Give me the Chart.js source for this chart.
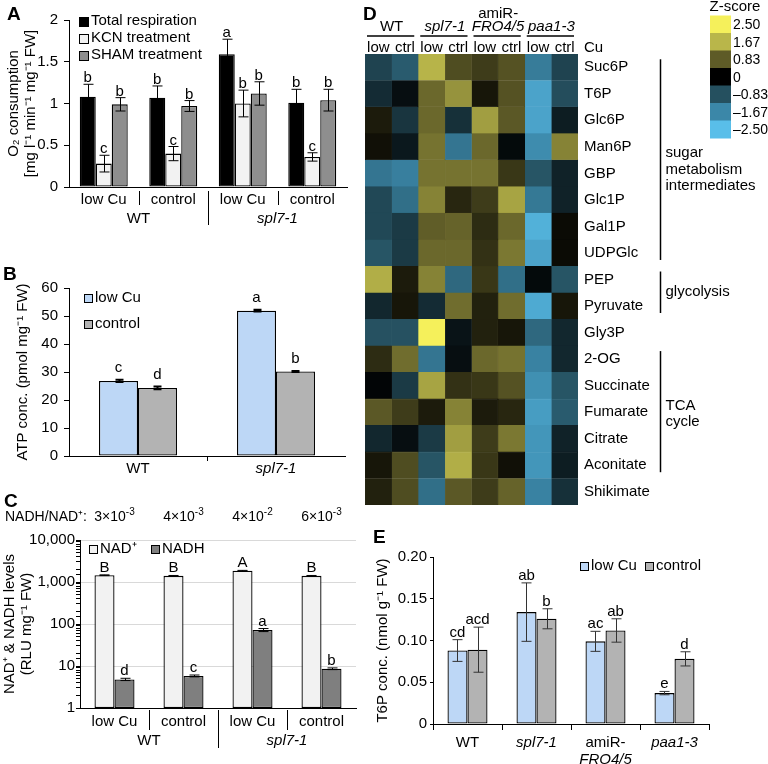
<!DOCTYPE html>
<html><head><meta charset="utf-8">
<script src="https://cdn.jsdelivr.net/npm/chart.js@4.4.1/dist/chart.umd.min.js"></script>
<style>
html,body{margin:0;padding:0;background:#fff;}
#wrap{position:relative;width:768px;height:764px;overflow:hidden;background:#fff;}
canvas{position:absolute;}
</style></head><body><div id="wrap">
<canvas id="cA" width="352" height="232" style="left:0;top:0"></canvas>
<canvas id="cB" width="352" height="256" style="left:0;top:232px"></canvas>
<canvas id="cC" width="362" height="276" style="left:0;top:488px"></canvas>
<canvas id="cD" width="438" height="520" style="left:330px;top:0"></canvas>
<canvas id="cE" width="428" height="249" style="left:340px;top:515px"></canvas>
</div>
<script>
// ================= DATA =================
// Panel A: O2 consumption
const aConditions = ['low Cu', 'control', 'low Cu', 'control'];
const aGenotypes = ['WT', 'spl7-1'];
const aSeries = ['Total respiration', 'KCN treatment', 'SHAM treatment'];
const aTotal = [1.08, 1.07, 1.59, 1.01];
const aTotalErr = [0.15, 0.14, 0.18, 0.16];
const aTotalLetters = ['b', 'b', 'a', 'b'];
const aKCN = [0.28, 0.40, 1.00, 0.36];
const aKCNErr = [0.10, 0.085, 0.16, 0.05];
const aKCNLetters = ['c', 'c', 'b', 'c'];
const aSHAM = [0.99, 0.97, 1.12, 1.04];
const aSHAMErr = [0.08, 0.065, 0.14, 0.13];
const aSHAMLetters = ['b', 'b', 'b', 'b'];
const aTicks = [0, 0.5, 1, 1.5, 2];
const aYTitle = ['O\u2082 consumption', '[mg l\u207B\u00B9 min\u207B\u00B9 mg\u207B\u00B9 FW]'];

// Panel B: ATP
const bGenotypes = ['WT', 'spl7-1'];
const bSeries = ['low Cu', 'control'];
const bLowCu = [26.8, 51.9];
const bLowCuErr = [0.4, 0.3];
const bLowCuLetters = ['c', 'a'];
const bControl = [24.3, 30.2];
const bControlErr = [0.5, 0.2];
const bControlLetters = ['d', 'b'];
const bTicks = [0, 10, 20, 30, 40, 50, 60];
const bYTitle = 'ATP conc. (pmol mg\u207B\u00B9 FW)';

// Panel C: NAD+ / NADH
const cConditions = ['low Cu', 'control', 'low Cu', 'control'];
const cGenotypes = ['WT', 'spl7-1'];
const cSeries = ['NAD\u207A', 'NADH'];
const cNAD = [1450, 1400, 1850, 1400];
const cNADErr = [30, 30, 40, 30];
const cNADLetters = ['B', 'B', 'A', 'B'];
const cNADH = [4.8, 5.8, 72, 8.6];
const cNADHErr = [0.3, 0.3, 6, 0.4];
const cNADHLetters = ['d', 'c', 'a', 'b'];
const cRatioTitle = 'NADH/NAD\u207A:';
const cRatioMant = [3, 4, 4, 6];
const cRatioExp = [-3, -3, -2, -3];
const cTicks = [1, 10, 100, 1000, 10000];
const cYTitle = ['NAD\u207A & NADH levels', '(RLU mg\u207B\u00B9 FW)'];

// Panel D: heatmap of Z-scores
const hmMetabolites = ['Suc6P', 'T6P', 'Glc6P', 'Man6P', 'GBP', 'Glc1P', 'Gal1P', 'UDPGlc',
  'PEP', 'Pyruvate', 'Gly3P', '2-OG', 'Succinate', 'Fumarate', 'Citrate', 'Aconitate', 'Shikimate'];
const hmGenotypeLines = [['WT'], ['spl7-1'], ['amiR-', 'FRO4/5'], ['paa1-3']];
const hmConditions = ['low', 'ctrl'];
const hmCuLabel = 'Cu';
const hmSamples = ['WT low', 'WT ctrl', 'spl7-1 low', 'spl7-1 ctrl', 'amiR low', 'amiR ctrl', 'paa1-3 low', 'paa1-3 ctrl'];
const zWTlow     = [-0.7, -0.45, 0.25, 0.15, -1.4, -0.75, -0.75, -0.9, 1.6, -0.4, -0.85, 0.4, -0.05, 0.8, -0.4, 0.2, 0.3];
const zWTctrl    = [-1.0, -0.15, -0.55, -0.25, -1.55, -1.3, -0.6, -0.6, 0.25, 0.2, -0.85, 1.0, -0.6, 0.55, -0.15, 0.7, 0.7];
const zSpl7low   = [1.65, 0.95, 0.95, 1.05, 1.05, 1.2, 0.85, 0.95, 1.2, -0.45, 2.5, -1.4, 1.5, 0.25, -0.6, -0.9, -1.3];
const zSpl7ctrl  = [0.7, 1.35, -0.5, -1.4, 1.05, 0.35, 0.9, 0.95, -1.2, 1.0, -0.2, -0.15, 0.45, 1.2, 1.45, 1.6, 0.8];
const zAmiRlow   = [0.55, 0.2, 1.45, 0.95, 1.05, 0.55, 0.4, 0.45, 0.5, 0.3, 0.3, 0.95, 0.5, 0.25, 0.55, 0.5, 0.55];
const zAmiRctrl  = [0.75, 0.75, 0.8, -0.1, 0.5, 1.5, 0.95, 1.1, -1.3, 1.0, 0.2, 1.05, 0.75, 0.35, 1.1, 0.15, 0.9];
const zPaaLow    = [-1.5, -2.1, -2.1, -1.75, -0.9, -1.45, -2.3, -2.1, -0.1, -2.2, -1.2, -1.6, -1.8, -2.0, -1.9, -1.9, -1.6];
const zPaaCtrl   = [-0.7, -0.8, -0.3, 1.2, -0.35, -0.35, 0.1, 0.1, -0.9, 0.2, -0.4, -0.4, -0.9, -1.0, -0.35, -0.3, -0.5];
const hmZ = [zWTlow, zWTctrl, zSpl7low, zSpl7ctrl, zAmiRlow, zAmiRctrl, zPaaLow, zPaaCtrl];
const hmGroupLabels = [['sugar', 'metabolism', 'intermediates'], ['glycolysis'], ['TCA', 'cycle']];
const hmGroupFirst = ['Suc6P', 'PEP', '2-OG'];
const hmGroupLast = ['UDPGlc', 'Pyruvate', 'Aconitate'];
const zLegendTitle = 'Z-score';
const zStops = [-2.5, -1.67, -0.83, 0, 0.83, 1.67, 2.5];

// Panel E: T6P
const eGenotypeLines = [['WT'], ['spl7-1'], ['amiR-', 'FRO4/5'], ['paa1-3']];
const eSeries = ['low Cu', 'control'];
const eLowCu = [0.088, 0.134, 0.099, 0.037];
const eLowCuErr = [0.013, 0.035, 0.012, 0.002];
const eLowCuLetters = ['cd', 'ab', 'ac', 'e'];
const eControl = [0.089, 0.126, 0.112, 0.078];
const eControlErr = [0.027, 0.012, 0.014, 0.0085];
const eControlLetters = ['acd', 'b', 'ab', 'd'];
const eTicks = [0, 0.05, 0.10, 0.15, 0.20];
const eYTitle = 'T6P conc. (nmol g\u207B\u00B9 FW)';

// ================= STYLE =================
const FONT = '"Liberation Sans", Arial, Helvetica, sans-serif';
const colA = ['#000000', '#f2f2f2', '#8e8e8e'];
const colLow = '#bdd7f6', colCtrl = '#b3b3b3';
const colNAD = '#f2f2f2', colNADH = '#7f7f7f';
const zStopColors = ['#59bee9', '#3b87a8', '#25505f', '#000000', '#5e5b27', '#b9b64a', '#f5f05b'];
const ITALIC = new Set(['spl7-1', 'FRO4/5', 'paa1-3']);

Chart.defaults.font.family = FONT;
Chart.defaults.font.size = 15;
Chart.defaults.color = '#000';
Chart.defaults.animation = false;
Chart.defaults.responsive = false;
Chart.defaults.plugins.legend.display = false;
Chart.defaults.plugins.tooltip.enabled = false;

// ================= HELPERS =================
function txt(ctx, s, x, y, o) {
  o = o || {};
  ctx.font = (o.italic ? 'italic ' : '') + (o.bold ? 'bold ' : '') + (o.size || 15) + 'px ' + FONT;
  ctx.fillStyle = o.color || '#000';
  ctx.textAlign = o.align || 'center';
  ctx.textBaseline = o.baseline || 'middle';
  ctx.fillText(s, x, y);
}
function seg(ctx, x1, y1, x2, y2, w) {
  ctx.strokeStyle = '#000'; ctx.lineWidth = w || 1;
  ctx.beginPath(); ctx.moveTo(x1, y1); ctx.lineTo(x2, y2); ctx.stroke();
}
function hexRgb(h) { const n = parseInt(h.slice(1), 16); return [(n >> 16) & 255, (n >> 8) & 255, n & 255]; }
function zColor(z) {
  if (z <= zStops[0]) return zStopColors[0];
  for (let i = 1; i < zStops.length; i++) {
    if (z <= zStops[i]) {
      const t = (z - zStops[i - 1]) / (zStops[i] - zStops[i - 1]);
      const a = hexRgb(zStopColors[i - 1]), b = hexRgb(zStopColors[i]);
      return 'rgb(' + a.map((v, k) => Math.round(v + (b[k] - v) * t)).join(',') + ')';
    }
  }
  return zStopColors[zStopColors.length - 1];
}
function drawLegend(ctx, datasets, pos, box, size) {
  datasets.forEach((ds, i) => {
    const [x, y] = pos[i];
    ctx.fillStyle = ds.backgroundColor;
    ctx.fillRect(x + 0.5, Math.round(y - box / 2) + 0.5, box, box);
    ctx.strokeStyle = '#000'; ctx.lineWidth = 1;
    ctx.strokeRect(x + 0.5, Math.round(y - box / 2) + 0.5, box, box);
    txt(ctx, ds.label, x + box + 3, y, { align: 'left', size: size || 15 });
  });
}
function drawGroupedX(chart, cats, groups, cfg) {
  const ctx = chart.ctx, xs = chart.scales.x, b = chart.chartArea.bottom;
  const per = cats.length / groups.length;
  cats.forEach((c, i) => txt(ctx, c, xs.getPixelForValue(i), b + cfg.catY));
  groups.forEach((g, k) => {
    const cx = (xs.getPixelForValue(k * per) + xs.getPixelForValue(k * per + per - 1)) / 2;
    txt(ctx, g, cx, b + cfg.groupY, { italic: ITALIC.has(g) });
  });
  for (let i = 1; i < cats.length; i++) {
    const x = Math.round((xs.getPixelForValue(i - 1) + xs.getPixelForValue(i)) / 2) + 0.5;
    seg(ctx, x, b + cfg.sepStart, x, b + (i % per === 0 ? cfg.longEnd : cfg.shortEnd), 1);
  }
}
const errLetterPlugin = {
  id: 'errLetters',
  afterDatasetsDraw(chart, args, opts) {
    const ctx = chart.ctx, ys = chart.scales.y;
    ctx.save();
    chart.data.datasets.forEach((ds, i) => {
      const meta = chart.getDatasetMeta(i);
      meta.data.forEach((bar, j) => {
        const v = ds.data[j], e = ds.errors ? ds.errors[j] : 0;
        const x = Math.round(bar.x) + 0.5;
        let top = bar.y;
        if (e > 0) {
          const yt = ys.getPixelForValue(v + e), yb = ys.getPixelForValue(v - e);
          ctx.strokeStyle = opts.color || '#000'; ctx.lineWidth = opts.width || 1;
          ctx.beginPath();
          ctx.moveTo(x, yt); ctx.lineTo(x, yb);
          ctx.moveTo(x - opts.cap, yt); ctx.lineTo(x + opts.cap, yt);
          ctx.moveTo(x - opts.cap, yb); ctx.lineTo(x + opts.cap, yb);
          ctx.stroke();
          top = Math.min(top, yt);
        }
        if (ds.letters) txt(ctx, ds.letters[j], bar.x, top - opts.gap, { baseline: 'alphabetic' });
      });
    });
    ctx.restore();
  }
};
function plainX(h) {
  return { grid: { display: true, drawOnChartArea: false, drawTicks: false }, ticks: { display: false },
    border: { color: '#000', width: 1 }, afterFit: s => { s.height = h; } };
}
function yAxis(w, ticks, fmt, tickLen, pad, title, titlePad, lh) {
  return {
    min: ticks[0], max: ticks[ticks.length - 1],
    afterFit: s => { s.width = w; },
    afterBuildTicks: s => { s.ticks = ticks.map(v => ({ value: v })); },
    ticks: { callback: fmt, padding: pad, autoSkip: false },
    grid: { drawOnChartArea: false, drawTicks: true, tickLength: tickLen, color: '#000' },
    border: { color: '#000', width: 1 },
    title: { display: true, text: title, font: { size: 15, lineHeight: lh || 1.1 }, padding: { top: titlePad, bottom: 0 } }
  };
}
const barOpts = (cp) => ({ bar: { borderColor: '#000', borderWidth: 1.3, borderSkipped: false, categoryPercentage: cp, barPercentage: 1 } });

// ================= PANEL A =================
new Chart(document.getElementById('cA'), {
  type: 'bar',
  data: { labels: aConditions, datasets: [
    { label: aSeries[0], data: aTotal, errors: aTotalErr, letters: aTotalLetters, backgroundColor: colA[0] },
    { label: aSeries[1], data: aKCN, errors: aKCNErr, letters: aKCNLetters, backgroundColor: colA[1] },
    { label: aSeries[2], data: aSHAM, errors: aSHAMErr, letters: aSHAMLetters, backgroundColor: colA[2] }
  ] },
  options: {
    layout: { padding: { left: 0, top: 20, right: 5, bottom: 0 } },
    datasets: barOpts(0.69),
    scales: { x: plainX(45), y: yAxis(69, aTicks, v => String(v), 5, 6, aYTitle, 5.75) },
    plugins: { errLetters: { cap: 5, gap: 2 } }
  },
  plugins: [errLetterPlugin, { id: 'annA', afterDraw(chart) {
    const ctx = chart.ctx; ctx.save();
    txt(ctx, 'A', 7, 20, { bold: true, size: 19, align: 'left', baseline: 'alphabetic' });
    drawLegend(ctx, chart.data.datasets, [[79, 21], [79, 38], [79, 55]], 9, 15);
    drawGroupedX(chart, aConditions, aGenotypes, { catY: 13, groupY: 32, sepStart: 4, shortEnd: 18, longEnd: 38 });
    ctx.restore();
  } }]
});

// ================= PANEL B =================
new Chart(document.getElementById('cB'), {
  type: 'bar',
  data: { labels: bGenotypes, datasets: [
    { label: bSeries[0], data: bLowCu, errors: bLowCuErr, letters: bLowCuLetters, backgroundColor: colLow },
    { label: bSeries[1], data: bControl, errors: bControlErr, letters: bControlLetters, backgroundColor: colCtrl }
  ] },
  options: {
    layout: { padding: { left: 0, top: 56, right: 7, bottom: 0 } },
    datasets: barOpts(0.565),
    scales: { x: plainX(32), y: yAxis(69, bTicks, v => String(v), 5, 6, bYTitle, 14.75) },
    plugins: { errLetters: { cap: 4, gap: 8, width: 2 } }
  },
  plugins: [errLetterPlugin, { id: 'annB', afterDraw(chart) {
    const ctx = chart.ctx, xs = chart.scales.x, b = chart.chartArea.bottom; ctx.save();
    txt(ctx, 'B', 3, 48, { bold: true, size: 19, align: 'left', baseline: 'alphabetic' });
    drawLegend(ctx, chart.data.datasets, [[84, 66], [84, 92]], 8, 15);
    bGenotypes.forEach((g, i) => txt(ctx, g, xs.getPixelForValue(i), b + 13, { italic: ITALIC.has(g) }));
    const xm = Math.round((xs.getPixelForValue(0) + xs.getPixelForValue(1)) / 2) + 0.5;
    seg(ctx, xm, b, xm, b + 5, 1);
    ctx.restore();
  } }]
});

// ================= PANEL C =================
function fmtThousands(v) { return String(v).replace(/\B(?=(\d{3})+(?!\d))/g, ','); }
new Chart(document.getElementById('cC'), {
  type: 'bar',
  data: { labels: cConditions, datasets: [
    { label: cSeries[0], data: cNAD, errors: cNADErr, letters: cNADLetters, backgroundColor: colNAD },
    { label: cSeries[1], data: cNADH, errors: cNADHErr, letters: cNADHLetters, backgroundColor: colNADH }
  ] },
  options: {
    layout: { padding: { left: 0, top: 52, right: 6, bottom: 0 } },
    datasets: barOpts(0.58),
    scales: {
      x: plainX(56),
      y: {
        type: 'logarithmic', min: cTicks[0], max: cTicks[cTicks.length - 1],
        afterFit: s => { s.width = 80; },
        ticks: { autoSkip: false, padding: 1, callback: v => cTicks.includes(v) ? fmtThousands(v) : '' },
        grid: { drawOnChartArea: true, drawTicks: true, tickLength: 4, tickColor: '#000',
          color: c => (c.tick && cTicks.includes(c.tick.value) && c.tick.value !== cTicks[0]) ? '#d9d9d9' : 'rgba(0,0,0,0)' },
        border: { color: '#000', width: 1 },
        title: { display: true, text: cYTitle, font: { size: 15, lineHeight: 1.13 }, padding: { top: 1.5, bottom: 0 } }
      }
    },
    plugins: { errLetters: { cap: 5, gap: 3 } }
  },
  plugins: [errLetterPlugin, { id: 'annC', afterDraw(chart) {
    const ctx = chart.ctx, xs = chart.scales.x; ctx.save();
    txt(ctx, 'C', 4, 19, { bold: true, size: 19, align: 'left', baseline: 'alphabetic' });
    txt(ctx, cRatioTitle, 5, 29, { align: 'left', size: 14 });
    cRatioMant.forEach((m, i) => {
      const main = m + '\u00D710', sup = String(cRatioExp[i]);
      ctx.font = '14px ' + FONT; const wm = ctx.measureText(main).width;
      ctx.font = '10px ' + FONT; const ws = ctx.measureText(sup).width;
      const x0 = xs.getPixelForValue(i) - (wm + ws) / 2;
      txt(ctx, main, x0, 29, { align: 'left', size: 14 });
      txt(ctx, sup, x0 + wm, 24, { align: 'left', size: 10 });
    });
    drawLegend(ctx, chart.data.datasets, [[89, 61], [151, 61]], 8, 15);
    drawGroupedX(chart, cConditions, cGenotypes, { catY: 14, groupY: 33, sepStart: 2, shortEnd: 22, longEnd: 40 });
    ctx.restore();
  } }]
});

// ================= PANEL D (heatmap) =================
new Chart(document.getElementById('cD'), {
  type: 'bar',
  data: { labels: hmMetabolites, datasets: hmZ.map((col, k) => ({
    label: hmSamples[k], data: hmMetabolites.map(() => 1),
    backgroundColor: col.map(zColor), borderColor: col.map(zColor), borderWidth: 0.6
  })) },
  options: {
    indexAxis: 'y',
    layout: { padding: { left: 35, top: 54, right: 110, bottom: 11 } },
    datasets: { bar: { categoryPercentage: 1, barPercentage: 1, borderSkipped: false } },
    scales: {
      x: { stacked: true, min: 0, max: hmSamples.length, display: false },
      y: { stacked: true, position: 'right', afterFit: s => { s.width = 80; },
        grid: { display: false, drawTicks: false }, border: { display: false },
        ticks: { padding: 6, autoSkip: false, font: { size: 15 } } }
    }
  },
  plugins: [{ id: 'annD', afterDraw(chart) {
    const ctx = chart.ctx, ca = chart.chartArea, xs = chart.scales.x, ys = chart.scales.y; ctx.save();
    txt(ctx, 'D', 33, 20, { bold: true, size: 19, align: 'left', baseline: 'alphabetic' });
    hmGenotypeLines.forEach((lines, k) => {
      const l = xs.getPixelForValue(2 * k), r = xs.getPixelForValue(2 * k + 2), cx = (l + r) / 2;
      lines.forEach((ln, li) => {
        txt(ctx, ln, cx, ca.top - 23 - (lines.length - 1 - li) * 13, { baseline: 'alphabetic', italic: ITALIC.has(ln) });
      });
      seg(ctx, l + 2, ca.top - 18, r - 4, ca.top - 18, 1.5);
    });
    hmSamples.forEach((s, k) => {
      txt(ctx, hmConditions[k % 2], xs.getPixelForValue(k + 0.5), ca.top - 2, { baseline: 'alphabetic' });
    });
    txt(ctx, hmCuLabel, ca.right + 6, ca.top - 2, { align: 'left', baseline: 'alphabetic' });
    const bx = ca.right + 82.5, labelShift = [10, 0, 2];
    hmGroupLabels.forEach((lines, g) => {
      const y1 = ys.getPixelForValue(hmMetabolites.indexOf(hmGroupFirst[g])) - 8;
      const y2 = ys.getPixelForValue(hmMetabolites.indexOf(hmGroupLast[g])) + 7;
      seg(ctx, bx, y1, bx, y2, 1.5);
      const cy = (y1 + y2) / 2 + labelShift[g], lh = 16.5;
      lines.forEach((ln, i) => txt(ctx, ln, bx + 5, cy + (i - (lines.length - 1) / 2) * lh, { align: 'left' }));
    });
    // colour scale legend
    const lx = 380, sw = 21, sh = 17.5, st = 15.5;
    txt(ctx, zLegendTitle, 405, 7);
    zStops.slice().reverse().forEach((v, i) => {
      ctx.fillStyle = zColor(v);
      ctx.fillRect(lx, st + i * sh, sw, sh + 0.5);
      const lab = v === 0 ? '0' : (v < 0 ? '\u2013' : '') + Math.abs(v).toFixed(2);
      txt(ctx, lab, lx + sw + 2, st + i * sh + sh / 2 + 1, { align: 'left', size: 14 });
    });
    ctx.restore();
  } }]
});

// ================= PANEL E =================
new Chart(document.getElementById('cE'), {
  type: 'bar',
  data: { labels: eGenotypeLines.map(l => l.join('')), datasets: [
    { label: eSeries[0], data: eLowCu, errors: eLowCuErr, letters: eLowCuLetters, backgroundColor: colLow },
    { label: eSeries[1], data: eControl, errors: eControlErr, letters: eControlLetters, backgroundColor: colCtrl }
  ] },
  options: {
    layout: { padding: { left: 0, top: 42, right: 59, bottom: 0 } },
    datasets: barOpts(0.58),
    scales: {
      x: { grid: { display: true, drawOnChartArea: false, drawTicks: true, tickLength: 6, offset: true, color: '#000' },
        ticks: { display: false }, border: { color: '#000', width: 1 }, afterFit: s => { s.height = 40; } },
      y: yAxis(93, eTicks, v => v === 0 ? '0' : v.toFixed(2), 3, 3, eYTitle, 34.75)
    },
    plugins: { errLetters: { cap: 5, gap: 3, color: '#333' } }
  },
  plugins: [errLetterPlugin, { id: 'annE', afterDraw(chart) {
    const ctx = chart.ctx, xs = chart.scales.x, b = chart.chartArea.bottom; ctx.save();
    txt(ctx, 'E', 33, 28, { bold: true, size: 19, align: 'left', baseline: 'alphabetic' });
    drawLegend(ctx, chart.data.datasets, [[240, 51], [305, 51]], 8, 15);
    eGenotypeLines.forEach((lines, i) => {
      lines.forEach((ln, li) => txt(ctx, ln, xs.getPixelForValue(i), b + 19 + li * 17, { italic: ITALIC.has(ln) }));
    });
    ctx.restore();
  } }]
});
</script>
</body></html>
